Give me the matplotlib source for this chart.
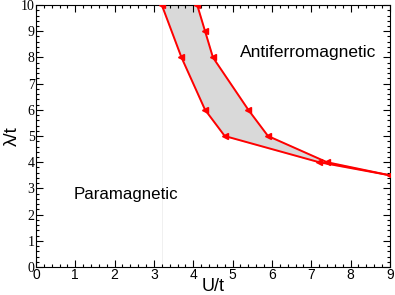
import matplotlib.pyplot as plt
from matplotlib.ticker import MultipleLocator

# phase boundaries (lower / upper edge of the coexistence region)
u_left = [3.2, 3.7, 4.3, 4.8, 7.2, 9.0]
lam_left = [10, 8, 6, 5, 4, 3.5]
u_right = [4.1, 4.3, 4.5, 5.4, 5.9, 7.4, 9.0]
lam_right = [10, 9, 8, 6, 5, 4, 3.5]

fig = plt.figure(figsize=(3.95, 2.95), dpi=100)
ax = fig.add_axes([0.0911, 0.0949, 0.896, 0.888])

# shaded region between the two boundaries
poly_u = u_left + u_right[::-1]
poly_l = lam_left + lam_right[::-1]
ax.fill(poly_u, poly_l, color='#d9d9d9', zorder=1)

ax.axvline(3.2, color='#eeeeee', lw=0.6, zorder=0)

ax.plot(u_left, lam_left, color='red', lw=1.4, marker='<', ms=5, zorder=3)
ax.plot(u_right, lam_right, color='red', lw=1.4, marker='<', ms=5, zorder=3)

ax.text(6.92, 8.2, 'Antiferromagnetic', fontsize=12.5, family='Liberation Sans',
        ha='center', va='center')
ax.text(2.30, 2.75, 'Paramagnetic', fontsize=12.2, family='Liberation Sans',
        ha='center', va='center')

ax.set_xlim(0, 9)
ax.set_ylim(0, 10)
ax.xaxis.set_major_locator(MultipleLocator(1))
ax.xaxis.set_minor_locator(MultipleLocator(0.2))
ax.yaxis.set_major_locator(MultipleLocator(1))
ax.yaxis.set_minor_locator(MultipleLocator(0.2))
ax.tick_params(which='both', direction='in', top=True, right=True, width=0.8)
ax.tick_params(which='major', length=5)
ax.tick_params(which='minor', length=2.5)
ax.tick_params(axis='x', which='major', pad=0.5)
ax.tick_params(axis='y', which='major', pad=1)
for lb in ax.get_xticklabels():
    lb.set_family('Liberation Sans')
    lb.set_fontsize(10)
for lb in ax.get_yticklabels():
    lb.set_family('Liberation Serif')
    lb.set_fontsize(10)

ax.set_xlabel('U/t', fontsize=13, family='Liberation Sans', labelpad=-2.5)
ax.set_ylabel('λ/t', fontsize=13.5, family='Liberation Sans', labelpad=0)

fig.savefig('out.png', dpi=100)
